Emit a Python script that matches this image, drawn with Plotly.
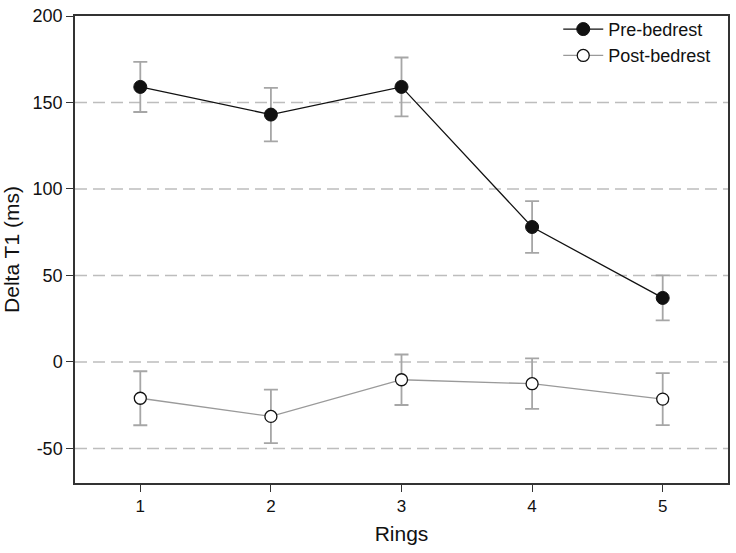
import plotly.graph_objects as go

rings = [1, 2, 3, 4, 5]
pre_vals = [159, 143, 159, 78, 37]
pre_err = [14.5, 15.5, 17, 15, 13]
post_vals = [-21, -31.5, -10.3, -12.6, -21.5]
post_err = [15.6, 15.5, 14.6, 14.6, 15]
y_ticks = [-50, 0, 50, 100, 150, 200]
y_tick_text = ["-50", "0", "50", "100", "150", "200"]

font_family = "Liberation Sans, Arial, sans-serif"
err_color = "#a6a6a6"

fig = go.Figure()
fig.add_trace(go.Scatter(
    x=rings, y=pre_vals, mode="lines+markers", name="Pre-bedrest",
    line=dict(color="#111111", width=1.3),
    marker=dict(color="#111111", size=13, line=dict(color="#111111", width=1)),
    error_y=dict(type="data", array=pre_err, color=err_color, thickness=1.8, width=7),
))
fig.add_trace(go.Scatter(
    x=rings, y=post_vals, mode="lines+markers", name="Post-bedrest",
    line=dict(color="#9a9a9a", width=1.3),
    marker=dict(color="white", size=12, line=dict(color="#111111", width=1.3)),
    error_y=dict(type="data", array=post_err, color=err_color, thickness=1.8, width=7),
))

for v in [-50, 0, 50, 100, 150]:
    fig.add_shape(type="line", xref="paper", x0=0, x1=1, yref="y", y0=v, y1=v,
                  line=dict(color="#bdbdbd", width=1.5, dash="12px,6px"), layer="below")

fig.update_layout(
    width=736, height=553,
    margin=dict(l=75, r=6, t=12, b=70),
    paper_bgcolor="white", plot_bgcolor="white",
    font=dict(family=font_family, color="#111111", size=18),
    showlegend=True,
    legend=dict(x=0.982, y=1.011, xanchor="right", yanchor="top",
                bgcolor="rgba(0,0,0,0)", font=dict(size=18), tracegroupgap=0,
                itemwidth=40),
    xaxis=dict(range=[0.5, 5.5], tickvals=rings, ticks="outside", ticklen=7,
               tickcolor="#333", showgrid=False, zeroline=False,
               showline=True, linecolor="#333", linewidth=1.5, mirror=True,
               title=dict(text="Rings", font=dict(size=21), standoff=11),
               tickfont=dict(size=17)),
    yaxis=dict(range=[-70, 200], tickvals=y_ticks, ticktext=y_tick_text,
               ticks="outside", ticklen=7,
               tickcolor="#333", showgrid=False, zeroline=False,
               showline=True, linecolor="#333", linewidth=1.5, mirror=True,
               title=dict(text="Delta T1 (ms)", font=dict(size=21), standoff=8),
               tickfont=dict(size=18)),
)

fig.write_html("out.html", config={"displayModeBar": False},
               post_script="document.body.style.margin='0';document.body.style.overflow='hidden';")
